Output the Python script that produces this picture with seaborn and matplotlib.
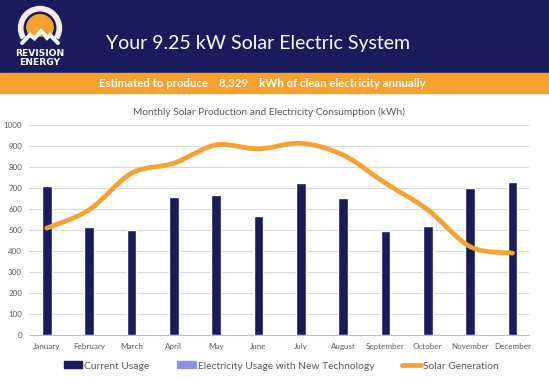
import numpy as np
import pandas as pd
import matplotlib
matplotlib.use("Agg")
import matplotlib.pyplot as plt
from matplotlib.path import Path
from matplotlib.patches import PathPatch, Rectangle, Wedge, Patch, Polygon
from matplotlib.lines import Line2D
import seaborn as sns

# ---------------- data ----------------
months = ["January", "February", "March", "April", "May", "June", "July",
          "August", "September", "October", "November", "December"]
current_usage = [711, 516, 499, 659, 666, 566, 726, 653, 494, 520, 699, 729]
solar_generation = [509, 596, 770, 818, 905, 886, 913, 857, 723, 596, 421, 390]
y_ticks = [0, 100, 200, 300, 400, 500, 600, 700, 800, 900, 1000]

NAVY = "#1a1b5c"
ORANGE = "#f7a12f"
PERIWINKLE = "#8e90e0"
GREY_TXT = "#595959"

sns.set_theme(style="white")
plt.rcParams["font.family"] = ["Lato", "DejaVu Sans"]

W, H = 549, 380
fig = plt.figure(figsize=(W / 100, H / 100), dpi=100)

def fx(px):
    return px / W

def fy(py):
    return 1 - py / H

# ---------------- header bands ----------------
fig.add_artist(Rectangle((0, fy(73)), 1, 73 / H, transform=fig.transFigure,
                         color=NAVY, zorder=0))
fig.add_artist(Rectangle((0, fy(93)), 1, 20 / H, transform=fig.transFigure,
                         color=ORANGE, zorder=0))
fig.text(fx(257.5), fy(44), "Your 9.25 kW Solar Electric System", color="white",
         fontsize=14, ha="center", va="center")
fig.text(fx(262.5), fy(83.5),
         "Estimated to produce    8,329    kWh of clean electricity annually",
         color="white", fontsize=8.2, fontweight="bold", ha="center", va="center")

# ---------------- logo ----------------
lax = fig.add_axes([0, fy(73), fx(80), 73 / H])
lax.set_xlim(0, 80)
lax.set_ylim(73, 0)
lax.axis("off")
lax.add_patch(Wedge((40, 28), 21.5, 150, 390, width=4.3, color="#f3ece6"))
lax.add_patch(Wedge((40, 28), 13.3, 180, 360, color=ORANGE))
lax.add_patch(Polygon([(26.7, 28), (53.3, 28), (51, 36), (29, 36)], color=ORANGE))
lax.plot([22, 30, 34.5, 41, 47, 50, 58], [43, 35, 38.5, 31, 38, 35, 43],
         color="white", lw=2.8, solid_joinstyle="miter")
lax.text(40, 53, "REVISION", color="white", fontsize=6.6, fontweight="bold",
         family="DejaVu Sans", ha="center", va="center")
lax.text(40, 62.5, "ENERGY", color="white", fontsize=6.6, fontweight="bold",
         family="DejaVu Sans", ha="center", va="center")

# ---------------- chart ----------------
ax = fig.add_axes([fx(29), fy(335), fx(500), 210 / H])
df = pd.DataFrame({"month": months, "usage": current_usage})
sns.barplot(data=df, x="month", y="usage", color=NAVY, width=0.23,
            saturation=1, ax=ax, zorder=3)

# smoothed solar curve (Catmull-Rom -> cubic Bezier, like Excel's smoothed line)
xs = np.arange(len(months), dtype=float)
ys = np.array(solar_generation, dtype=float)
pts = np.column_stack([xs, ys])
ext = np.vstack([pts[0], pts, pts[-1]])
verts = [tuple(pts[0])]
codes = [Path.MOVETO]
for i in range(len(pts) - 1):
    p0, p1, p2, p3 = ext[i], ext[i + 1], ext[i + 2], ext[i + 3]
    c1 = p1 + (p2 - p0) / 6
    c2 = p2 - (p3 - p1) / 6
    verts += [tuple(c1), tuple(c2), tuple(p2)]
    codes += [Path.CURVE4] * 3
ax.add_patch(PathPatch(Path(verts, codes), fill=False, edgecolor=ORANGE,
                       lw=3.4, capstyle="round", joinstyle="round", zorder=4))

ax.set_xlim(-0.42, 11.39)
ax.set_ylim(0, 1000)
ax.set_yticks(y_ticks)
ax.set_yticklabels([str(t) for t in y_ticks])
ax.grid(axis="y", color="#d9d9d9", lw=0.8, zorder=0)
ax.set_axisbelow(True)
for s in ["left", "right", "top"]:
    ax.spines[s].set_visible(False)
ax.spines["bottom"].set_color("#bfbfbf")
ax.spines["bottom"].set_linewidth(0.8)
ax.tick_params(axis="both", length=0, labelsize=5.8, colors=GREY_TXT)
ax.tick_params(axis="x", pad=5.5)
ax.tick_params(axis="y", pad=5)
ax.set_xlabel("")
ax.set_ylabel("")
ax.set_facecolor("none")

fig.text(fx(269), fy(112), "Monthly Solar Production and Electricity Consumption (kWh)",
         color=GREY_TXT, fontsize=7.3, ha="center", va="center")

handles = [Patch(color=NAVY), Patch(color=PERIWINKLE),
           Line2D([0], [0], color=ORANGE, lw=3.4)]
labels = ["Current Usage", "Electricity Usage with New Technology", "Solar Generation"]
fig.legend(handles, labels, loc="center", bbox_to_anchor=(fx(281), fy(366)),
           ncol=3, frameon=False, fontsize=7.4, labelcolor=GREY_TXT,
           handlelength=1.8, handleheight=0.65, handletextpad=0.2, columnspacing=2.7)

fig.savefig("out.png", dpi=100)
